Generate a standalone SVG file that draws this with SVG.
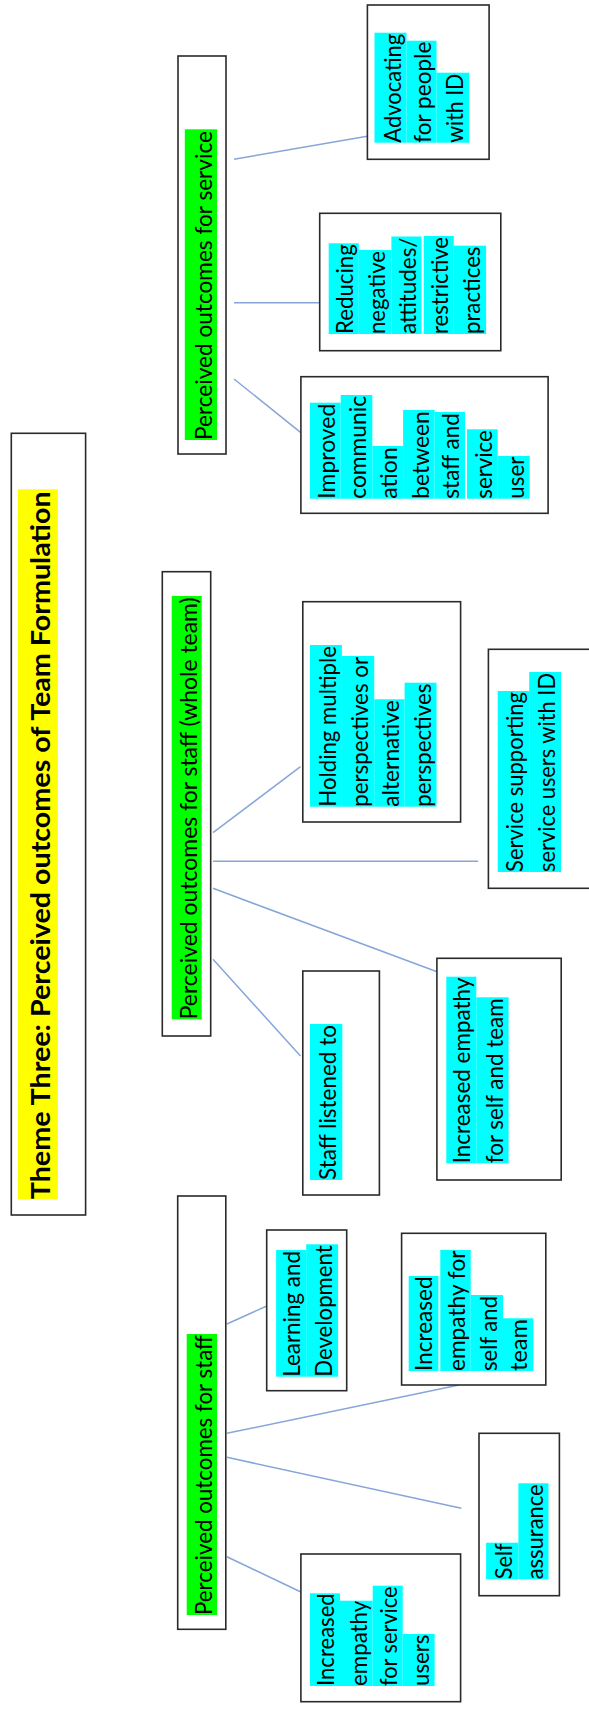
<svg xmlns="http://www.w3.org/2000/svg" width="589" height="1711" viewBox="0 0 589 1711">
  <style>
    .box{fill:#fff;stroke:#2a2a2a;stroke-width:1.6}
    .hc{fill:#00ffff}
    .hg{fill:#00ff00}
    .hy{fill:#ffff00}
    text{font-family:Lato,"Open Sans","DejaVu Sans",sans-serif;font-size:24px;fill:#000}
    .ttl{font-weight:bold;font-size:27px}
    #connectors line{stroke:#86a6d9;stroke-width:1.5;fill:none}
  </style>
  <rect width="589" height="1711" fill="#fff"/>

  <!-- connectors -->
  <g id="connectors">
    <line x1="234" y1="159.3" x2="374.5" y2="135"/>
    <line x1="234" y1="302.7" x2="323.8" y2="302.7"/>
    <line x1="234" y1="379" x2="300.5" y2="432.3"/>
    <line x1="213" y1="832.7" x2="300.5" y2="766.7"/>
    <line x1="213" y1="861.3" x2="478.2" y2="861.3"/>
    <line x1="213" y1="888.3" x2="438.4" y2="972.3"/>
    <line x1="213" y1="959.3" x2="300.5" y2="1056"/>
    <line x1="226.9" y1="1324" x2="266.7" y2="1306"/>
    <line x1="226.9" y1="1433.3" x2="459" y2="1385"/>
    <line x1="226.9" y1="1457.3" x2="461.3" y2="1508.3"/>
    <line x1="226.9" y1="1556.7" x2="303.5" y2="1593.3"/>
  </g>

  <!-- theme title -->
  <g id="theme-title">
    <rect class="box" x="11.3" y="433.3" width="74.3" height="781.7"/>
    <rect class="hy" x="18" y="489.3" width="39.9" height="710"/>
    <text class="ttl" transform="translate(49.5,1199.3) rotate(-90)" textLength="708" lengthAdjust="spacingAndGlyphs">Theme Three: Perceived outcomes of Team Formulation</text>
  </g>

  <!-- outcomes for service -->
  <g id="outcomes-service">
    <rect class="box" x="178" y="56" width="48" height="398"/>
    <rect class="hg" x="184.8" y="129.3" width="32.3" height="310.7"/>
    <text transform="translate(212.3,440) rotate(-90)" textLength="309" lengthAdjust="spacingAndGlyphs">Perceived outcomes for service</text>
  </g>

  <g id="advocating">
    <rect class="box" x="367.4" y="5" width="121.7" height="154.3"/>
    <rect class="hc" x="374.5" y="32.7" width="32" height="110"/>
    <rect class="hc" x="406.5" y="40.7" width="30" height="102"/>
    <rect class="hc" x="436.5" y="72.7" width="32.7" height="70"/>
    <text transform="translate(400.5,142.7) rotate(-90)" textLength="109" lengthAdjust="spacingAndGlyphs">Advocating</text>
    <text transform="translate(430.5,142.7) rotate(-90)" textLength="101" lengthAdjust="spacingAndGlyphs">for people</text>
    <text transform="translate(463.2,142.7) rotate(-90)" textLength="69" lengthAdjust="spacingAndGlyphs">with ID</text>
  </g>

  <g id="reducing">
    <rect class="box" x="319.7" y="213.3" width="181.1" height="137.4"/>
    <rect class="hc" x="328.7" y="243.3" width="30.1" height="90.7"/>
    <rect class="hc" x="358.8" y="250" width="32.6" height="84"/>
    <rect class="hc" x="391.4" y="236.5" width="30.1" height="97.5"/>
    <rect class="hc" x="423.7" y="236" width="30.1" height="98"/>
    <rect class="hc" x="453.8" y="245.7" width="32.3" height="88.3"/>
    <text transform="translate(352.8,334) rotate(-90)" textLength="89.7" lengthAdjust="spacingAndGlyphs">Reducing</text>
    <text transform="translate(385.4,334) rotate(-90)" textLength="83" lengthAdjust="spacingAndGlyphs">negative</text>
    <text transform="translate(415.5,334) rotate(-90)" textLength="96.5" lengthAdjust="spacingAndGlyphs">attitudes/</text>
    <text transform="translate(447.8,334) rotate(-90)" textLength="97" lengthAdjust="spacingAndGlyphs">restrictive</text>
    <text transform="translate(480.1,334) rotate(-90)" textLength="87.5" lengthAdjust="spacingAndGlyphs">practices</text>
  </g>

  <g id="improved-communication">
    <rect class="box" x="300.9" y="376.7" width="247.2" height="136.6"/>
    <rect class="hc" x="309.9" y="402.7" width="30.8" height="96"/>
    <rect class="hc" x="340.7" y="395" width="31.6" height="103.7"/>
    <rect class="hc" x="372.3" y="446" width="30.8" height="52.7"/>
    <rect class="hc" x="403.1" y="410" width="31.5" height="88.7"/>
    <rect class="hc" x="434.6" y="412" width="30.4" height="86.7"/>
    <rect class="hc" x="467" y="429.3" width="30.7" height="69.4"/>
    <rect class="hc" x="497.7" y="456" width="32" height="42.7"/>
    <text transform="translate(334.7,498.7) rotate(-90)" textLength="95" lengthAdjust="spacingAndGlyphs">Improved</text>
    <text transform="translate(366.3,498.7) rotate(-90)" textLength="102.7" lengthAdjust="spacingAndGlyphs">communic</text>
    <text transform="translate(397.1,498.7) rotate(-90)" textLength="51.5" lengthAdjust="spacingAndGlyphs">ation</text>
    <text transform="translate(428.6,498.7) rotate(-90)" textLength="87.5" lengthAdjust="spacingAndGlyphs">between</text>
    <text transform="translate(459,498.7) rotate(-90)" textLength="85.7" lengthAdjust="spacingAndGlyphs">staff and</text>
    <text transform="translate(491.7,498.7) rotate(-90)" textLength="68.4" lengthAdjust="spacingAndGlyphs">service</text>
    <text transform="translate(523.7,498.7) rotate(-90)" textLength="42" lengthAdjust="spacingAndGlyphs">user</text>
  </g>

  <!-- outcomes for staff (whole team) -->
  <g id="outcomes-whole-team">
    <rect class="box" x="162.3" y="571.7" width="48.4" height="464.3"/>
    <rect class="hg" x="171.7" y="596" width="30" height="423.3"/>
    <text transform="translate(196.7,1019.3) rotate(-90)" textLength="422" lengthAdjust="spacingAndGlyphs">Perceived outcomes for staff (whole team)</text>
  </g>

  <g id="holding-perspectives">
    <rect class="box" x="302.8" y="601.7" width="157.8" height="220.3"/>
    <rect class="hc" x="310" y="645" width="31.9" height="161.7"/>
    <rect class="hc" x="341.9" y="656" width="32.3" height="150.7"/>
    <rect class="hc" x="374.2" y="699.3" width="30.4" height="107.4"/>
    <rect class="hc" x="404.6" y="682.7" width="31.9" height="124"/>
    <text transform="translate(335.9,806.7) rotate(-90)" textLength="160.7" lengthAdjust="spacingAndGlyphs">Holding multiple</text>
    <text transform="translate(368.2,806.7) rotate(-90)" textLength="149.7" lengthAdjust="spacingAndGlyphs">perspectives or</text>
    <text transform="translate(398.6,806.7) rotate(-90)" textLength="106.4" lengthAdjust="spacingAndGlyphs">alternative</text>
    <text transform="translate(430.5,806.7) rotate(-90)" textLength="123" lengthAdjust="spacingAndGlyphs">perspectives</text>
  </g>

  <g id="service-supporting">
    <rect class="box" x="488.4" y="649.3" width="104" height="239"/>
    <rect class="hc" x="497.7" y="691" width="31.5" height="181"/>
    <rect class="hc" x="529.2" y="672" width="31.8" height="200"/>
    <text transform="translate(523.2,872) rotate(-90)" textLength="180" lengthAdjust="spacingAndGlyphs">Service supporting</text>
    <text transform="translate(555,872) rotate(-90)" textLength="199" lengthAdjust="spacingAndGlyphs">service users with ID</text>
  </g>

  <g id="staff-listened">
    <rect class="box" x="302.8" y="971" width="76.6" height="224"/>
    <rect class="hc" x="310" y="1024" width="32.3" height="156"/>
    <text transform="translate(336.3,1180) rotate(-90)" textLength="155" lengthAdjust="spacingAndGlyphs">Staff listened to</text>
  </g>

  <g id="empathy-self-team-whole">
    <rect class="box" x="436.9" y="958.3" width="124.3" height="221.7"/>
    <rect class="hc" x="446.3" y="976.7" width="30" height="186.6"/>
    <rect class="hc" x="476.3" y="997.3" width="32.3" height="166"/>
    <text transform="translate(470.3,1163.3) rotate(-90)" textLength="185.6" lengthAdjust="spacingAndGlyphs">Increased empathy</text>
    <text transform="translate(502.6,1163.3) rotate(-90)" textLength="165" lengthAdjust="spacingAndGlyphs">for self and team</text>
  </g>

  <!-- outcomes for staff -->
  <g id="outcomes-staff">
    <rect class="box" x="177.7" y="1196" width="48.1" height="433.3"/>
    <rect class="hg" x="186.7" y="1334" width="30.4" height="281"/>
    <text transform="translate(212,1615) rotate(-90)" textLength="280" lengthAdjust="spacingAndGlyphs">Perceived outcomes for staff</text>
  </g>

  <g id="learning-development">
    <rect class="box" x="266.7" y="1230" width="80" height="160.7"/>
    <rect class="hc" x="276.1" y="1250" width="30.1" height="126.7"/>
    <rect class="hc" x="306.2" y="1244.3" width="31.9" height="132.4"/>
    <text transform="translate(300.2,1376.7) rotate(-90)" textLength="125.7" lengthAdjust="spacingAndGlyphs">Learning and</text>
    <text transform="translate(332.1,1376.7) rotate(-90)" textLength="131.4" lengthAdjust="spacingAndGlyphs">Development</text>
  </g>

  <g id="empathy-self-team">
    <rect class="box" x="401.6" y="1233.3" width="144.2" height="151.7"/>
    <rect class="hc" x="408.7" y="1276" width="29.7" height="95"/>
    <rect class="hc" x="440.3" y="1250" width="30.4" height="121"/>
    <rect class="hc" x="470.7" y="1295" width="32.3" height="76"/>
    <rect class="hc" x="503" y="1318.3" width="30.4" height="52.7"/>
    <text transform="translate(432.4,1371) rotate(-90)" textLength="94.5" lengthAdjust="spacingAndGlyphs">Increased</text>
    <text transform="translate(464.7,1371) rotate(-90)" textLength="120.5" lengthAdjust="spacingAndGlyphs">empathy for</text>
    <text transform="translate(497,1371) rotate(-90)" textLength="75" lengthAdjust="spacingAndGlyphs">self and</text>
    <text transform="translate(527.4,1371) rotate(-90)" textLength="52" lengthAdjust="spacingAndGlyphs">team</text>
  </g>

  <g id="self-assurance">
    <rect class="box" x="479" y="1433.3" width="80.4" height="162.4"/>
    <rect class="hc" x="486.1" y="1542.7" width="32.3" height="36.6"/>
    <rect class="hc" x="518.4" y="1483.3" width="30.1" height="96"/>
    <text transform="translate(512.4,1579.3) rotate(-90)" textLength="36" lengthAdjust="spacingAndGlyphs">Self</text>
    <text transform="translate(542.5,1579.3) rotate(-90)" textLength="95" lengthAdjust="spacingAndGlyphs">assurance</text>
  </g>

  <g id="empathy-service-users">
    <rect class="box" x="300.9" y="1554" width="159.7" height="147.7"/>
    <rect class="hc" x="309.9" y="1593.3" width="30.1" height="92.7"/>
    <rect class="hc" x="340" y="1600.7" width="32.7" height="85.3"/>
    <rect class="hc" x="372.7" y="1585.7" width="30" height="100.3"/>
    <rect class="hc" x="402.7" y="1634" width="31.9" height="52"/>
    <text transform="translate(334,1686) rotate(-90)" textLength="92.7" lengthAdjust="spacingAndGlyphs">Increased</text>
    <text transform="translate(366.7,1686) rotate(-90)" textLength="85.3" lengthAdjust="spacingAndGlyphs">empathy</text>
    <text transform="translate(396.7,1686) rotate(-90)" textLength="99.5" lengthAdjust="spacingAndGlyphs">for service</text>
    <text transform="translate(428.6,1686) rotate(-90)" textLength="51.5" lengthAdjust="spacingAndGlyphs">users</text>
  </g>
</svg>
